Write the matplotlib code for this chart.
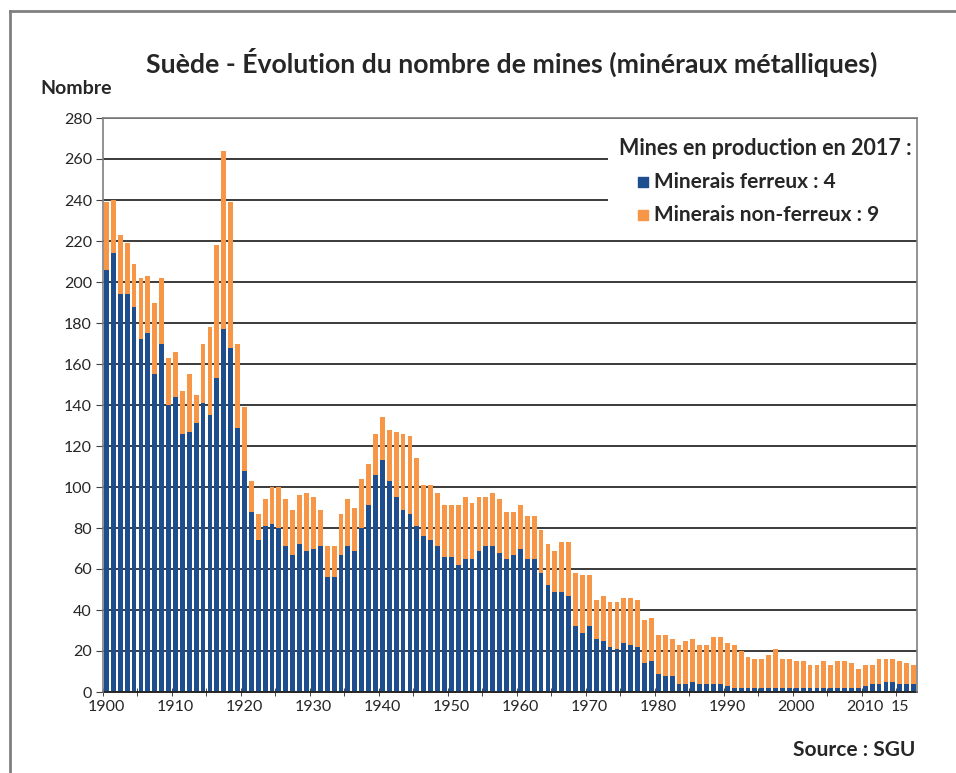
import numpy as np
import matplotlib
matplotlib.use('Agg')
import matplotlib.pyplot as plt
from matplotlib.lines import Line2D
from matplotlib.patches import Rectangle

plt.rcParams['font.family'] = ['Lato', 'DejaVu Sans']

# Nombre de mines par an (1900-2017)
years = np.arange(1900, 2018)

ferreux = [
    206, 214, 194, 194, 188, 172, 175, 155, 170, 140,
    144, 126, 127, 131, 141, 135, 153, 177, 168, 129,
    108, 88, 74, 81, 82, 80, 71, 67, 72, 69,
    70, 71, 56, 56, 67, 71, 69, 80, 91, 106,
    113, 103, 95, 89, 87, 81, 76, 74, 71, 66,
    66, 62, 65, 65, 69, 71, 71, 68, 65, 67,
    70, 65, 65, 58, 52, 49, 49, 47, 32, 29,
    32, 26, 25, 22, 21, 24, 23, 22, 14, 15,
    9, 8, 8, 4, 4, 5, 4, 4, 4, 4,
    3, 2, 2, 2, 2, 2, 2, 2, 2, 2,
    2, 2, 2, 2, 2, 2, 2, 2, 2, 2,
    3, 4, 4, 5, 5, 4, 4, 4,
]

non_ferreux = [
    33, 26, 29, 25, 21, 30, 28, 35, 32, 23,
    22, 21, 28, 14, 29, 43, 65, 87, 71, 41,
    31, 15, 13, 13, 18, 20, 23, 22, 24, 28,
    25, 18, 15, 15, 20, 23, 21, 24, 20, 20,
    21, 25, 32, 37, 38, 33, 25, 27, 26, 25,
    25, 29, 30, 27, 26, 24, 26, 26, 23, 21,
    21, 21, 21, 21, 20, 20, 24, 26, 26, 28,
    25, 19, 22, 22, 23, 22, 23, 23, 21, 21,
    19, 20, 18, 19, 21, 21, 19, 19, 23, 23,
    21, 21, 18, 15, 14, 14, 16, 19, 14, 14,
    13, 13, 11, 11, 13, 11, 13, 13, 12, 9,
    10, 9, 12, 11, 11, 11, 10, 9,
]

y_ticks = np.arange(0, 281, 20)
x_ticks = [1900, 1910, 1920, 1930, 1940, 1950, 1960, 1970, 1980, 1990, 2000, 2010, 2015]
x_labels = ['1900', '1910', '1920', '1930', '1940', '1950', '1960', '1970', '1980',
            '1990', '2000', '2010', '15']

BLUE = '#1f4e8f'
ORANGE = '#f79646'
TXT = '#262626'

fig = plt.figure(figsize=(9.56, 7.73), dpi=100)
ax = fig.add_axes([103 / 956, 1 - 692 / 773, (917 - 103) / 956, (692 - 118) / 773])

ax.bar(years, ferreux, width=0.7, color=BLUE, zorder=2)
ax.bar(years, non_ferreux, bottom=ferreux, width=0.7, color=ORANGE, zorder=2)

ax.set_xlim(1899.5, 2017.5)
ax.set_ylim(0, 280)
ax.set_yticks(y_ticks)
ax.set_yticklabels([str(v) for v in y_ticks], fontsize=11.5, color=TXT)
ax.set_xticks(x_ticks)
ax.set_xticklabels(x_labels, fontsize=11.5, color=TXT)
ax.set_xticks(np.arange(1899.5, 2018, 5), minor=True)
ax.tick_params(axis='x', which='major', length=0, pad=6)
ax.tick_params(axis='x', which='minor', length=6, direction='inout', color='#262626')
ax.tick_params(axis='y', length=5, color='#404040', pad=3)

ax.yaxis.grid(True, color='#3a3a3a', linewidth=1.4, zorder=1)
ax.set_axisbelow(True)
for side in ['top', 'right', 'left']:
    ax.spines[side].set_color('#7f7f7f')
    ax.spines[side].set_linewidth(1.2)
    ax.spines[side].set_zorder(5)
ax.spines['bottom'].set_color('#262626')
ax.spines['bottom'].set_linewidth(1.4)

# Encart "mines en production" sur fond blanc
ax.add_patch(Rectangle((0.62, 0.805), 0.38, 0.175, transform=ax.transAxes,
                       facecolor='white', edgecolor='none', zorder=3))
ax.text(0.993, 0.947, 'Mines en production en 2017 :', transform=ax.transAxes,
        ha='right', va='center', fontsize=15.5, fontweight='bold', color=TXT, zorder=4)
ax.scatter([0.664], [0.888], marker='s', s=60, color=BLUE, transform=ax.transAxes,
           zorder=4, clip_on=False)
ax.text(0.677, 0.888, 'Minerais ferreux : 4', transform=ax.transAxes,
        ha='left', va='center', fontsize=15, fontweight='bold', color=TXT, zorder=4)
ax.scatter([0.664], [0.831], marker='s', s=60, color=ORANGE, transform=ax.transAxes,
           zorder=4, clip_on=False)
ax.text(0.677, 0.831, 'Minerais non-ferreux : 9', transform=ax.transAxes,
        ha='left', va='center', fontsize=15, fontweight='bold', color=TXT, zorder=4)

fig.text(512 / 956, 1 - 62 / 773, 'Suède - Évolution du nombre de mines (minéraux métalliques)',
         ha='center', va='center', fontsize=19.2, fontweight='bold', color=TXT)
fig.text(76 / 956, 1 - 88 / 773, 'Nombre', ha='center', va='center',
         fontsize=14, fontweight='bold', color=TXT)
fig.text(915 / 956, 1 - 750 / 773, 'Source : SGU', ha='right', va='center',
         fontsize=15, fontweight='bold', color=TXT)

# Cadre extérieur
fig.add_artist(Line2D([10 / 956, 10 / 956], [0, 1 - 11 / 773], transform=fig.transFigure,
                      color='#808080', linewidth=2))
fig.add_artist(Line2D([10 / 956, 1], [1 - 11 / 773, 1 - 11 / 773], transform=fig.transFigure,
                      color='#808080', linewidth=2))

plt.savefig('out.png', dpi=100)
plt.close()
